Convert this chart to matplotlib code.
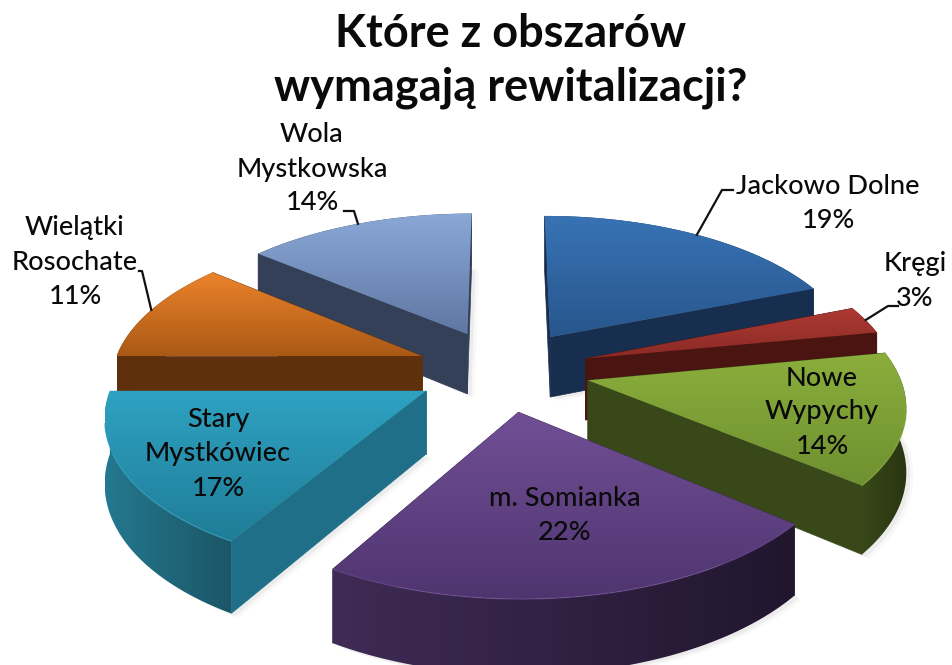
import numpy as np
import matplotlib
matplotlib.use("Agg")
import matplotlib.pyplot as plt
from matplotlib.colors import LinearSegmentedColormap
from matplotlib.patches import Polygon

plt.rcParams['font.family'] = ['Lato', 'DejaVu Sans']

title = "Które z obszarów\nwymagają rewitalizacji?"
names = ["Jackowo Dolne", "Kręgi", "Nowe\nWypychy", "m. Somianka", "Stary\nMystkówiec", "Wielątki\nRosochate", "Wola\nMystkowska"]
percent = [19, 3, 14, 22, 17, 11, 14]
# slice sizes as measured on the picture, the labels above are rounded
shares = [19, 3, 14, 22.5, 16.5, 11, 14]

top_light = ["#3873b5", "#ad3a33", "#8bae3c", "#714f95", "#2fa2c2", "#ec832a", "#8aa8d6"]
top_dark = ["#28568c", "#8a2925", "#6e9030", "#4f3570", "#1f7d98", "#aa5916", "#5f77a3"]
side_col = ["#172e4f", "#4a1411", "#384818", "#3a2850", "#206f88", "#5f300c", "#344058"]
rim_left = ["#172e4f", "#4a1411", "#384818", "#3f2b55", "#24788f", "#5f300c", "#344058"]
rim_right = ["#172e4f", "#4a1411", "#2b3512", "#21162e", "#1b5666", "#5f300c", "#344058"]

# back to front
draw_order = [6, 0, 5, 1, 4, 2, 3]

# label centres and line layout, pixels of the image
label_pos = [(828, 203), (915, 281), (822, 412), (565, 516), (218, 454), (75, 262), (312, 169)]
leader_elbows = [[(722, 190), (733, 190)], [(888, 306), (898, 306)], None, None, None,
                 [(142, 271), (139, 271)], [(354, 211), (344, 211)]]

# pie geometry
cx, cy = 503, 370
f, g, p = 310, 147, 0.142
explode = 0.28
depth = 62


def project(X, Y):
    w = 1 + p * Y
    return cx + f * X / w, cy - g * Y / w


def scale(Y):
    return 1 / (1 + p * Y)


def wall(ax, xs, ys, h, color, z):
    pts = list(zip(xs, ys)) + [(x, y + d) for x, y, d in zip(xs[::-1], ys[::-1], h[::-1])]
    ax.add_patch(Polygon(pts, closed=True, fc=color, ec=color, lw=0.5, zorder=z))


def gradient(ax, poly, colors, vertical, z):
    # fill the bounding box of poly with a gradient and clip it to poly
    ax.add_patch(poly)
    xy = poly.get_xy()
    x0, x1, y0, y1 = xy[:, 0].min(), xy[:, 0].max(), xy[:, 1].min(), xy[:, 1].max()
    grad = np.linspace(0, 1, 128).reshape(-1, 1) if vertical else np.linspace(0, 1, 128).reshape(1, -1)
    cmap = LinearSegmentedColormap.from_list("grad", colors)
    im = ax.imshow(grad, cmap=cmap, extent=(x0, x1, y1, y0), aspect="auto", zorder=z, interpolation="bilinear")
    im.set_clip_path(poly)


fig = plt.figure(figsize=(9.53, 6.65), dpi=100)
ax = fig.add_axes([0, 0, 1, 1])
ax.axis("off")

edges = np.cumsum([0] + shares) / sum(shares) * 2 * np.pi
z = 1
for i in draw_order:
    a0, a1 = edges[i], edges[i + 1]
    mid = (a0 + a1) / 2
    ox, oy = explode * np.sin(mid), explode * np.cos(mid)
    t = np.linspace(a0, a1, 90)
    X, Y = ox + np.sin(t), oy + np.cos(t)
    rx, ry = project(X, Y)
    ax_, ay_ = project(ox, oy)
    rh = depth * scale(Y)
    ah = depth * scale(oy)

    # soft shadow under the slice
    sx = np.r_[ax_, rx]
    sy = np.r_[ay_ + ah, ry + rh]
    for off, al in ((7, 0.04), (4, 0.07)):
        ax.add_patch(Polygon(np.c_[sx + off, sy + off * 0.6], closed=True, fc="#555555", ec="none", alpha=al, zorder=z))
    z += 1

    # radial faces, the one further back goes first
    faces = [(rx[0], ry[0], rh[0], Y[0]), (rx[-1], ry[-1], rh[-1], Y[-1])]
    faces.sort(key=lambda q: -q[3])
    for ex, ey, eh, _ in faces:
        wall(ax, np.array([ax_, ex]), np.array([ay_, ey]), np.array([ah, eh]), side_col[i], z)
        z += 1

    # outer wall, shaded left to right
    rim = Polygon(np.c_[np.r_[rx, rx[::-1]], np.r_[ry, (ry + rh)[::-1]]], closed=True, fc="none", ec="none")
    gradient(ax, rim, [rim_left[i], rim_right[i]], False, z)
    z += 1

    # top face with vertical gradient
    poly = Polygon(np.c_[np.r_[ax_, rx], np.r_[ay_, ry]], closed=True, fc="none", ec="none")
    gradient(ax, poly, [top_light[i], top_dark[i]], True, z)
    z += 1

    # thin highlight along the front edge
    front = Y < oy - 0.2
    if front.sum() > 10:
        ax.plot(rx[front], ry[front], color=top_light[i], lw=0.9, alpha=0.6, zorder=z, solid_capstyle="round")
        z += 1

z += 1
for i, name in enumerate(names):
    ax.text(label_pos[i][0], label_pos[i][1], f"{name}\n{percent[i]}%", ha="center", va="center",
            fontsize=19.5, fontweight="medium", color="#0a0a0a", linespacing=1.45, zorder=z)
    if leader_elbows[i] is not None:
        mid = (edges[i] + edges[i + 1]) / 2
        lx, ly = project((explode + 1) * np.sin(mid), (explode + 1) * np.cos(mid))
        px = [lx] + [e[0] for e in leader_elbows[i]]
        py = [ly] + [e[1] for e in leader_elbows[i]]
        ax.plot(px, py, color="#111111", lw=1.6, zorder=z)

ax.text(511, 61, title, ha="center", va="center", fontsize=32.5, fontweight="bold", color="#0a0a0a",
        linespacing=1.32, zorder=z)

ax.set_xlim(0, 953)
ax.set_ylim(665, 0)
fig.savefig("out.png", dpi=100)
